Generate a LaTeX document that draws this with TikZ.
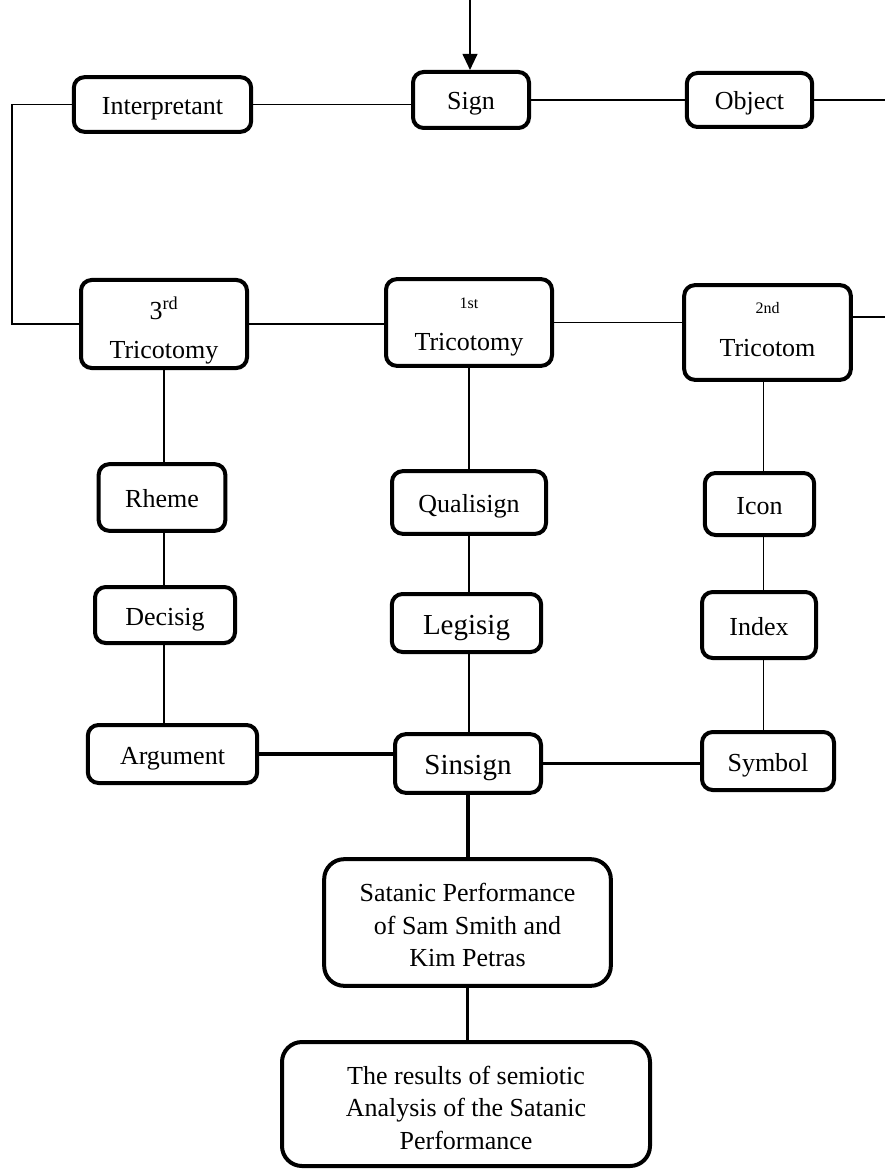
\documentclass[tikz,border=0pt]{standalone}
\usepackage{fontspec}
\setmainfont{Liberation Serif}
\usepackage{tikz}
\usetikzlibrary{positioning,arrows.meta,calc}

\begin{document}
\begin{tikzpicture}[x=0.75pt, y=-0.75pt,
    term/.style={rectangle, draw, line width=3pt, rounded corners=8pt, inner sep=0pt, align=center, font=\fontsize{19.5}{22.5}\selectfont},
    word/.style={term, text height=17pt, text depth=2pt},
    bigword/.style={term, text height=19pt, text depth=2.4pt, font=\fontsize{21.75}{24}\selectfont},
    bigterm/.style={term, rounded corners=15pt, font=\fontsize{19.5}{24.6}\selectfont},
    link/.style={line width=1.2pt},
    thicklink/.style={line width=2.4pt},
    arrow/.style={-{Triangle[length=12pt, width=11pt]}, line width=1.5pt},
]
\useasboundingbox (0,0) rectangle (885,1169);
\coordinate (lft) at (12,0);
\coordinate (rgt) at (885,0);
\coordinate (src) at (470,0);

% Sign row
\node[word, minimum width=133pt, minimum height=41pt] (interp) at (162.5,104.5) {Interpretant};
\node[word, minimum width=87pt, minimum height=42pt] (sign) at (471,100) {Sign};
\node[word, minimum width=94pt, minimum height=40.5pt] (object) at (749.5,100) {Object};

% Tricotomies
\node[term, minimum width=124.5pt, minimum height=66pt] (trd) at (164,324) {\rule{0pt}{26.7pt}3\textsuperscript{rd}\\[6.5pt]Tricotomy};
\node[term, minimum width=124.5pt, minimum height=65pt] (fst) at (469,322.5) {\rule{0pt}{14.75pt}{\fontsize{12}{13}\selectfont 1st}\\[9.25pt]Tricotomy};
\node[term, minimum width=125pt, minimum height=71pt] (snd) at (767.5,332.5) {{\fontsize{12}{13}\selectfont 2nd}\\[10pt]Tricotom\rule[-4.4pt]{0pt}{4.4pt}};

% 3rd column
\node[word, minimum width=95pt, minimum height=50pt] (rheme) at (162,497.5) {Rheme};
\node[word, minimum width=105pt, minimum height=42pt] (deci) at (165,615) {Decisig};
\node[word, minimum width=127pt, minimum height=43.5pt] (arg) at (172.5,754) {Argument};

% 1st column
\node[word, minimum width=115.5pt, minimum height=47pt] (qual) at (469,502.5) {Qualisign};
\node[bigword, minimum width=112pt, minimum height=43.5pt] (legi) at (466.5,623) {Legisig};
\node[bigword, minimum width=109.5pt, minimum height=44pt] (sins) at (468,763.5) {Sinsign};

% 2nd column
\node[word, minimum width=82pt, minimum height=46.5pt] (icon) at (759.5,504) {Icon};
\node[word, minimum width=85.5pt, minimum height=49.5pt] (index) at (759,625) {Index};
\node[word, minimum width=99pt, minimum height=43.5pt] (symb) at (768,761) {Symbol};

% Results
\node[bigterm, minimum width=215pt, minimum height=95pt] (sat) at (467.5,922.5) {\rule{0pt}{17.5pt}Satanic Performance\\of Sam Smith and\\Kim Petras};
\node[bigterm, minimum width=276pt, minimum height=93pt] (res) at (466,1104) {\rule{0pt}{19.5pt}The results of semiotic\\Analysis of the Satanic\\Performance};

% Top connections
\draw[arrow] (src) -- (src |- sign.north);
\draw[link] (interp.east) -- (interp.east -| sign.west);
\draw[link] (sign.east) -- (sign.east -| object.west);
\draw[link] (object.east) -- (object.east -| rgt);
\draw[link] (interp.west) -- (interp.west -| lft) |- (trd.west);

% Tricotomy row
\draw[link] (trd.east) -- (trd.east -| fst.west);
\draw[link] (fst.east) -- (fst.east -| snd.west);
\draw[link] ([yshift=4pt]fst.east -| snd.east) -- ([yshift=4pt]fst.east -| rgt);

% Columns
\draw[link] (trd.south) -- (trd.south |- rheme.north);
\draw[link] (trd.south |- rheme.south) -- (trd.south |- deci.north);
\draw[link] (trd.south |- deci.south) -- (trd.south |- arg.north);
\draw[link] (fst.south) -- (fst.south |- qual.north);
\draw[link] (fst.south |- qual.south) -- (fst.south |- legi.north);
\draw[link] (fst.south |- legi.south) -- (fst.south |- sins.north);
\draw[link] ([xshift=-3pt]snd.south) -- ([xshift=-3pt]snd.south |- icon.north);
\draw[link] ([xshift=-3pt]snd.south |- icon.south) -- ([xshift=-3pt]snd.south |- index.north);
\draw[link] ([xshift=-3pt]snd.south |- index.south) -- ([xshift=-3pt]snd.south |- symb.north);

% Bottom row
\draw[thicklink] (arg.east) -- (arg.east -| sins.west);
\draw[thicklink] (sins.east) -- (sins.east -| symb.west);
\draw[thicklink] (sins.south) -- (sins.south |- sat.north);
\draw[thicklink] (sat.south) -- (sat.south |- res.north);
\end{tikzpicture}
\end{document}
